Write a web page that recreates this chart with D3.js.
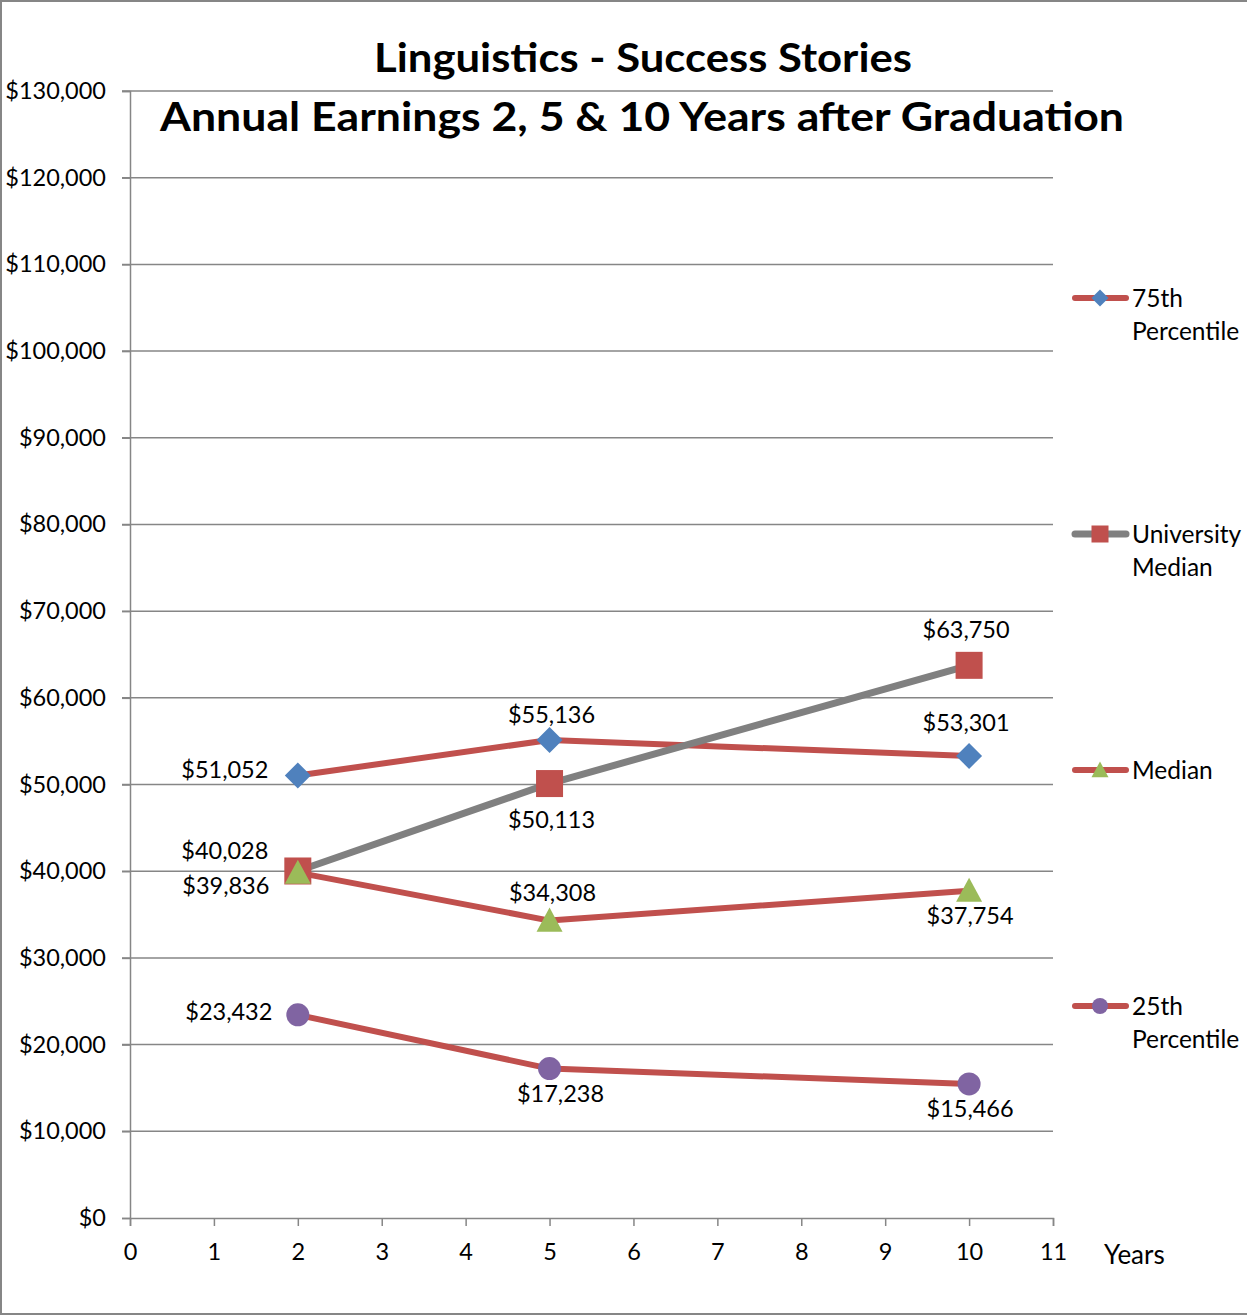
<!DOCTYPE html>
<html>
<head>
<meta charset="utf-8">
<script src="https://cdn.jsdelivr.net/npm/d3@7"></script>
<style>
  body { margin: 0; background: #fff; }
  svg { display: block; font-family: Lato, "Open Sans", sans-serif; }
</style>
</head>
<body>
<div id="chart"></div>
<script>
const years = [2, 5, 10];
const p75 = [51052, 55136, 53301];
const uniMedian = [40028, 50113, 63750];
const median = [39836, 34308, 37754];
const p25 = [23432, 17238, 15466];
const xTicks = d3.range(0, 12);
const yTicks = d3.range(0, 130001, 10000);

// label placement per point: [dx, dy]
const series = [
  { name: ['75th', 'Percentile'], values: p75, line: '#C0504D', lw: 6, marker: 'diamond', color: '#4F81BD',
    labels: [[-73, -6], [2, -25], [-3, -33]] },
  { name: ['University', 'Median'], values: uniMedian, line: '#808080', lw: 7, marker: 'square', color: '#C0504D',
    labels: [[-73, -20], [2, 36], [-3, -36]] },
  { name: ['Median'], values: median, line: '#C0504D', lw: 6, marker: 'triangle', color: '#9BBB59',
    labels: [[-72, 13], [3, -28], [1, 25]] },
  { name: ['25th', 'Percentile'], values: p25, line: '#C0504D', lw: 6, marker: 'circle', color: '#8064A2',
    labels: [[-69, -3], [11, 25], [1, 25]] }
];

const W = 1247, H = 1316;
const FS = 23.5;
const svg = d3.select('#chart').append('svg').attr('width', W).attr('height', H);

svg.append('rect').attr('x', 1).attr('y', 1).attr('width', W + 5).attr('height', H - 3)
  .attr('fill', '#fff').attr('stroke', '#868686').attr('stroke-width', 2);

const x = d3.scaleLinear().domain([0, 11]).range([130, 1053]);
const y = d3.scaleLinear().domain([0, 130000]).range([1218, 91]);

// gridlines
svg.append('g').selectAll('line').data(yTicks.filter(d => d > 0)).join('line')
  .attr('x1', 122).attr('x2', x(11))
  .attr('y1', d => y(d)).attr('y2', d => y(d))
  .attr('stroke', '#868686').attr('stroke-width', 1.5);

// y axis
const yAxis = svg.append('g').attr('transform', `translate(${x(0)},0)`)
  .call(d3.axisLeft(y).tickValues(yTicks).tickSize(8).tickPadding(16)
    .tickFormat(d => '$' + d3.format(',')(d)));
yAxis.selectAll('path, line').attr('stroke', '#868686').attr('stroke-width', 1.5);
yAxis.selectAll('text').attr('font-size', FS).attr('fill', '#000').attr('font-family', 'Lato, sans-serif');

// x axis
const xAxis = svg.append('g').attr('transform', `translate(0,${y(0)})`)
  .call(d3.axisBottom(x).tickValues(xTicks).tickSize(8).tickSizeOuter(8).tickPadding(17));
xAxis.selectAll('path, line').attr('stroke', '#868686').attr('stroke-width', 1.5);
xAxis.selectAll('text').attr('font-size', FS).attr('fill', '#000').attr('font-family', 'Lato, sans-serif');

svg.append('text').attr('x', 1104).attr('y', 1264).attr('font-size', 26).text('Years');

// title
svg.append('text').attr('x', 643).attr('y', 72).attr('text-anchor', 'middle')
  .attr('font-size', 41).attr('font-weight', 'bold')
  .attr('textLength', 538).attr('lengthAdjust', 'spacingAndGlyphs')
  .text('Linguistics - Success Stories');
svg.append('text').attr('x', 642).attr('y', 131).attr('text-anchor', 'middle')
  .attr('font-size', 41).attr('font-weight', 'bold')
  .attr('textLength', 964).attr('lengthAdjust', 'spacingAndGlyphs')
  .text('Annual Earnings 2, 5 & 10 Years after Graduation');

function drawMarker(g, type, color, size) {
  const s = size / 2;
  if (type === 'diamond') {
    g.append('path').attr('d', `M0,${-s}L${s},0L0,${s}L${-s},0Z`).attr('fill', color);
  } else if (type === 'square') {
    g.append('rect').attr('x', -s).attr('y', -s).attr('width', size).attr('height', size).attr('fill', color);
  } else if (type === 'triangle') {
    g.append('path').attr('d', `M0,${-s}L${s},${s * 0.85}L${-s},${s * 0.85}Z`).attr('fill', color);
  } else {
    g.append('circle').attr('r', s).attr('fill', color);
  }
}

const line = d3.line().x((d, i) => x(years[i])).y(d => y(d));
const sizes = { diamond: 26, square: 27, triangle: 26, circle: 23 };

series.forEach(s => {
  svg.append('path').attr('d', line(s.values)).attr('fill', 'none')
    .attr('stroke', s.line).attr('stroke-width', s.lw).attr('stroke-linejoin', 'round');
});
series.forEach(s => {
  s.values.forEach((v, i) => {
    const g = svg.append('g').attr('transform', `translate(${x(years[i])},${y(v)})`);
    drawMarker(g, s.marker, s.color, sizes[s.marker]);
  });
});
series.forEach(s => {
  s.values.forEach((v, i) => {
    const [dx, dy] = s.labels[i];
    svg.append('text').attr('x', x(years[i]) + dx).attr('y', y(v) + dy)
      .attr('dy', '0.35em').attr('text-anchor', 'middle').attr('font-size', FS)
      .text('$' + d3.format(',')(v));
  });
});

// legend
const legend = svg.append('g');
series.forEach((s, i) => {
  const ly = 298 + i * 236;
  const g = legend.append('g').attr('transform', `translate(0,${ly})`);
  g.append('line').attr('x1', 1075).attr('x2', 1126).attr('stroke', s.line)
    .attr('stroke-width', s.lw).attr('stroke-linecap', 'round');
  const m = g.append('g').attr('transform', 'translate(1100,0)');
  drawMarker(m, s.marker, s.color, s.marker === 'circle' ? 16 : 17);
  s.name.forEach((t, j) => {
    g.append('text').attr('x', 1132).attr('y', j * 33).attr('dy', '0.35em')
      .attr('font-size', 24.5).text(t);
  });
});
</script>
</body>
</html>
